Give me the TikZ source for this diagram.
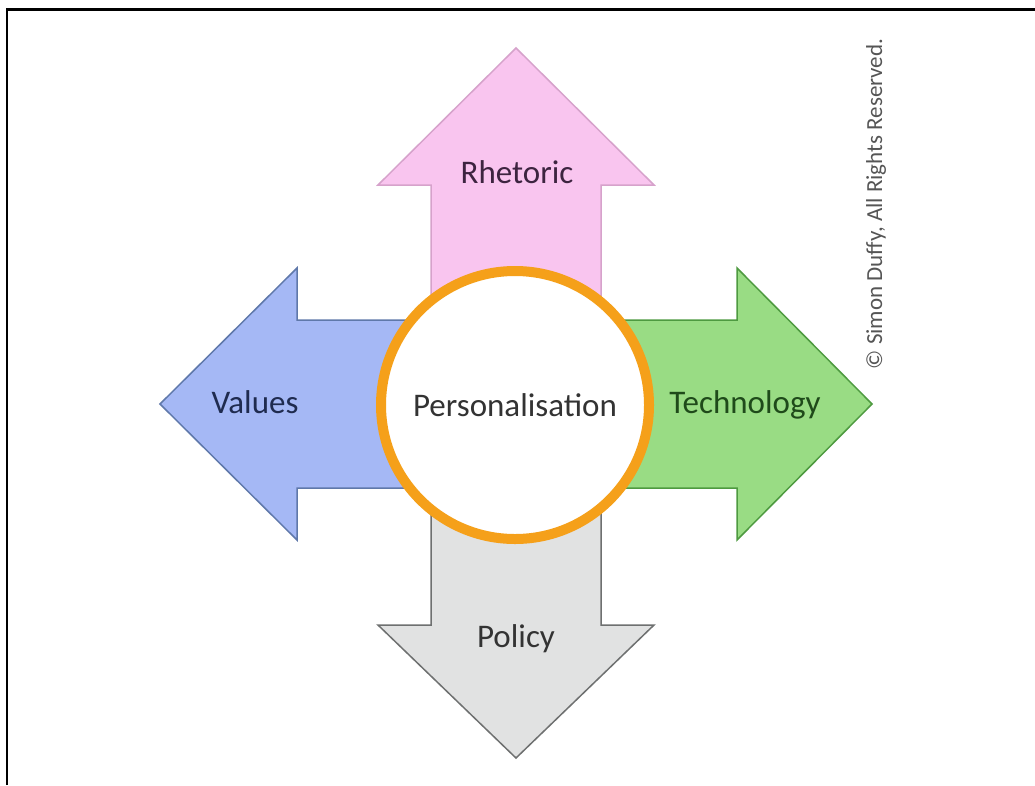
\documentclass[tikz,border=0pt]{standalone}
\usepackage{fontspec}
\setmainfont{Carlito}
\usetikzlibrary{positioning}
\definecolor{rhetoricFill}{HTML}{F9C5EF}
\definecolor{rhetoricLine}{HTML}{D6A2CB}
\definecolor{rhetoricText}{HTML}{3D2440}
\definecolor{valuesFill}{HTML}{A5B8F5}
\definecolor{valuesLine}{HTML}{5F78AA}
\definecolor{valuesText}{HTML}{1F2B4F}
\definecolor{techFill}{HTML}{99DC84}
\definecolor{techLine}{HTML}{4E9A40}
\definecolor{techText}{HTML}{1F4A1A}
\definecolor{policyFill}{HTML}{E1E2E2}
\definecolor{policyLine}{HTML}{6E7070}
\definecolor{policyText}{HTML}{333333}
\definecolor{ringOrange}{HTML}{F5A01A}
\definecolor{copyGrey}{HTML}{555555}
\tikzset{%
	% Specifications for style of arrows and texts:
	base/.style = {line width=1.5pt, line join=miter},
	rhetoricArrow/.style = {base, draw=rhetoricLine, fill=rhetoricFill},
	valuesArrow/.style = {base, draw=valuesLine, fill=valuesFill},
	techArrow/.style = {base, draw=techLine, fill=techFill},
	policyArrow/.style = {base, draw=policyLine, fill=policyFill},
	arrowText/.style = {anchor=base, inner sep=0pt,
		font=\fontsize{33pt}{40pt}\selectfont},
	ring/.style = {circle, minimum size=268pt, inner sep=0pt,
		line width=10pt, draw=ringOrange, fill=white,
		text=policyText, font=\fontsize{33pt}{40pt}\selectfont}
}
\begin{document}
\begin{tikzpicture}[x=1pt, y=-1pt]
	\useasboundingbox (0,0) rectangle (1035,785);
	\fill[white] (0,0) rectangle (1035,785);
	\draw[line width=2.5pt] (7,785) -- (7,9.5) -- (1035,9.5);
	% four arrows, drawn from the centre outwards
	\draw[rhetoricArrow] (431,404) -- (431,185) -- (378,185) -- (516,48) -- (654,185) -- (601,185) -- (601,404) -- cycle;
	\draw[policyArrow] (431,404) -- (431,625) -- (378,625) -- (516,758) -- (654,625) -- (601,625) -- (601,404) -- cycle;
	\draw[valuesArrow] (516,320) -- (297,320) -- (297,268) -- (160,404) -- (297,540) -- (297,488) -- (516,488) -- cycle;
	\draw[techArrow] (516,320) -- (737,320) -- (737,268) -- (872,404) -- (737,540) -- (737,488) -- (516,488) -- cycle;
	\node (centre) [ring] at (515,405) {Personalisation};
	\node (rhetoric) [arrowText, text=rhetoricText] at (517,183) {Rhetoric};
	\node (values) [arrowText, text=valuesText] at (255,413) {Values};
	\node (technology) [arrowText, text=techText] at (745,413) {Technology};
	\node (policy) [arrowText, text=policyText] at (516,647) {Policy};
	\node (copyright) [rotate=90, text=copyGrey, font=\fontsize{23pt}{28pt}\selectfont] at (876,204) {© Simon Duffy, All Rights Reserved.};
\end{tikzpicture}
\end{document}
